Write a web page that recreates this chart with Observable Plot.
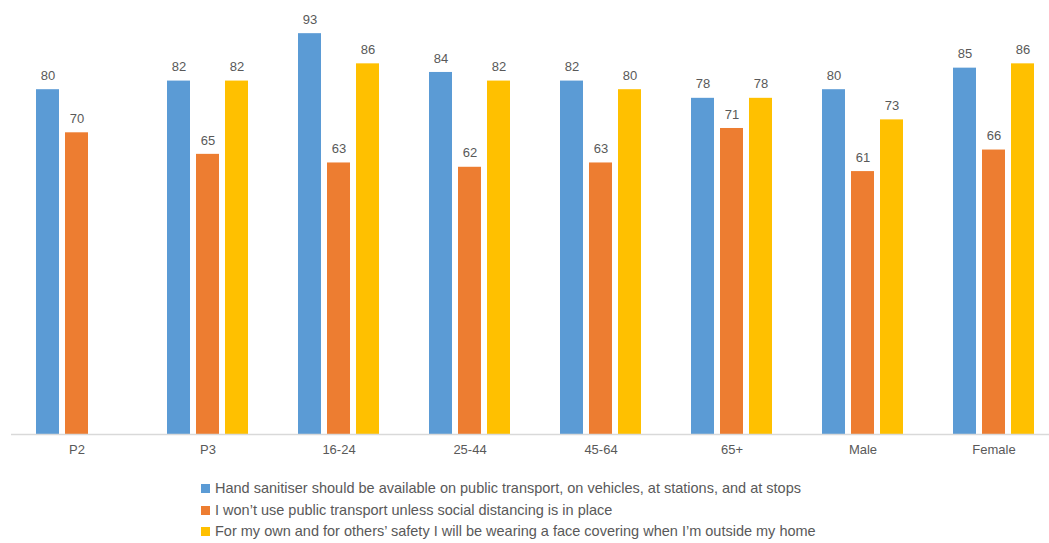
<!DOCTYPE html>
<html>
<head>
<meta charset="utf-8">
<script src="https://cdn.jsdelivr.net/npm/d3@7"></script>
<script src="https://cdn.jsdelivr.net/npm/@observablehq/plot@0.6"></script>
<style>
  body { margin: 0; background: #fff; font-family: "Liberation Sans", Arial, sans-serif; }
  #legend { margin-left: 201px; padding-top: 8px; color: #595959; font-size: 14.5px; }
  #legend div { height: 21.5px; line-height: 21.5px; display: flex; align-items: center; }
  #legend span.sw { width: 9px; height: 9px; display: inline-block; margin-right: 5px; }
</style>
</head>
<body>
<div id="chart"></div>
<div id="legend"></div>
<script>
const groups = ["P2", "P3", "16-24", "25-44", "45-64", "65+", "Male", "Female"];
const seriesNames = [
  "Hand sanitiser should be available on public transport, on vehicles, at stations, and at stops",
  "I won\u2019t use public transport unless social distancing is in place",
  "For my own and for others\u2019 safety I will be wearing a face covering when I\u2019m outside my home"
];
const sanitiser = [80, 82, 93, 84, 82, 78, 80, 85];
const distancing = [70, 65, 63, 62, 63, 71, 61, 66];
const covering = [null, 82, 86, 82, 80, 78, 73, 86];
const colors = ["#5B9BD5", "#ED7D31", "#FFC000"];

const seriesValues = [sanitiser, distancing, covering];
const data = [];
groups.forEach((g, i) => {
  seriesValues.forEach((vals, s) => {
    if (vals[i] != null) data.push({group: g, series: seriesNames[s], value: vals[i]});
  });
});

const chart = Plot.plot({
  width: 1049,
  height: 470,
  marginTop: 3,
  marginBottom: 36,
  marginLeft: 8,
  marginRight: 0,
  style: {fontFamily: "'Liberation Sans', Arial, sans-serif", fontSize: "13px", color: "#595959", background: "#fff"},
  fx: {domain: groups, range: [8.35, 1062], padding: 0, label: null, tickSize: 0, tickPadding: 10, axis: "bottom"},
  x: {domain: seriesNames, axis: null, paddingInner: 0.207, paddingOuter: 0.843},
  y: {domain: [0, 100], axis: null},
  color: {domain: seriesNames, range: colors},
  marks: [
    Plot.barY(data, {fx: "group", x: "series", y: "value", fill: "series"}),
    Plot.text(data, {fx: "group", x: "series", y: "value", text: d => String(d.value), dy: -14, fill: "#595959", fontSize: 13}),
    Plot.ruleY([0], {stroke: "#d9d9d9", strokeWidth: 1.5})
  ]
});
document.getElementById("chart").appendChild(chart);

const legend = document.getElementById("legend");
seriesNames.forEach((name, i) => {
  const row = document.createElement("div");
  const sw = document.createElement("span");
  sw.className = "sw";
  sw.style.background = colors[i];
  row.appendChild(sw);
  row.appendChild(document.createTextNode(name));
  legend.appendChild(row);
});
</script>
</body>
</html>
